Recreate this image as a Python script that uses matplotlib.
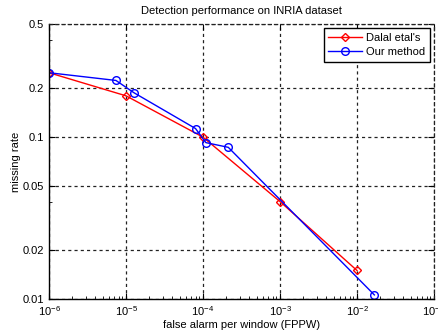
import matplotlib
matplotlib.use("Agg")
import matplotlib.pyplot as plt
from matplotlib.ticker import FixedLocator, NullFormatter

plt.rcParams['font.family'] = ['Liberation Sans', 'DejaVu Sans']
plt.rcParams['mathtext.fontset'] = 'custom'
plt.rcParams['mathtext.rm'] = 'Liberation Sans'

dalal_fppw = [1e-6, 1e-5, 1e-4, 1e-3, 1e-2]
dalal_miss = [0.25, 0.18, 0.10, 0.040, 0.015]

ours_fppw = [1e-6, 7.4e-6, 1.27e-5, 8.0e-5, 1.09e-4, 2.13e-4, 1.68e-2]
ours_miss = [0.25, 0.224, 0.188, 0.113, 0.0925, 0.0865, 0.0106]

x_ticks = [1e-6, 1e-5, 1e-4, 1e-3, 1e-2, 1e-1]
x_labels = [r'$10^{-6}$', r'$10^{-5}$', r'$10^{-4}$', r'$10^{-3}$', r'$10^{-2}$', r'$10^{-1}$']
y_ticks = [0.01, 0.02, 0.05, 0.1, 0.2, 0.5]
y_labels = ['0.01', '0.02', '0.05', '0.1', '0.2', '0.5']

W, H = 439, 332
fig = plt.figure(figsize=(W / 100, H / 100), dpi=100)
ax = fig.add_axes([49 / W, 1 - 299 / H, (434 - 49) / W, (299 - 24) / H])

ax.plot(dalal_fppw, dalal_miss, color='red', lw=1.0, marker='D', markersize=4.5,
        markerfacecolor='none', markeredgecolor='red', markeredgewidth=1.0, label="Dalal etal's")
ax.plot(ours_fppw, ours_miss, color='blue', lw=1.0, marker='o', markersize=5.5,
        markerfacecolor='none', markeredgecolor='blue', markeredgewidth=1.0, label='Our method')

ax.set_xscale('log')
ax.set_yscale('log')
ax.set_xlim(1e-6, 1e-1)
ax.set_ylim(0.01, 0.5)
ax.set_xticks(x_ticks)
ax.set_xticklabels(x_labels)
ax.set_yticks(y_ticks)
ax.set_yticklabels(y_labels)
ax.yaxis.set_minor_locator(FixedLocator([0.04, 0.4]))
ax.yaxis.set_minor_formatter(NullFormatter())

ax.grid(True, which='major', linestyle=(0, (2.5, 2.5)), color='#222222', linewidth=0.9)
ax.tick_params(which='major', direction='in', top=True, right=True, labelsize=8,
               colors='black', length=4, width=0.8)
ax.tick_params(which='minor', direction='in', top=False, right=False, length=2.5, width=0.6)

for s in ['left', 'bottom']:
    ax.spines[s].set_linewidth(1.0)
for s in ['top', 'right']:
    ax.spines[s].set_linestyle((0, (2.5, 2.5)))
    ax.spines[s].set_linewidth(0.9)
    ax.spines[s].set_color('#222222')

ax.set_title('Detection performance on INRIA dataset', fontsize=8, pad=7)
ax.set_xlabel('false alarm per window (FPPW)', fontsize=8, labelpad=2)
ax.set_ylabel('missing rate', fontsize=8, labelpad=1)

leg = ax.legend(loc='upper right', fontsize=8, frameon=True, fancybox=False,
                edgecolor='black', framealpha=1, borderpad=0.4, handlelength=3,
                borderaxespad=0.4, labelspacing=0.4, handletextpad=0.4)
leg.get_frame().set_linewidth(1.0)

fig.savefig('out.png', dpi=100)
